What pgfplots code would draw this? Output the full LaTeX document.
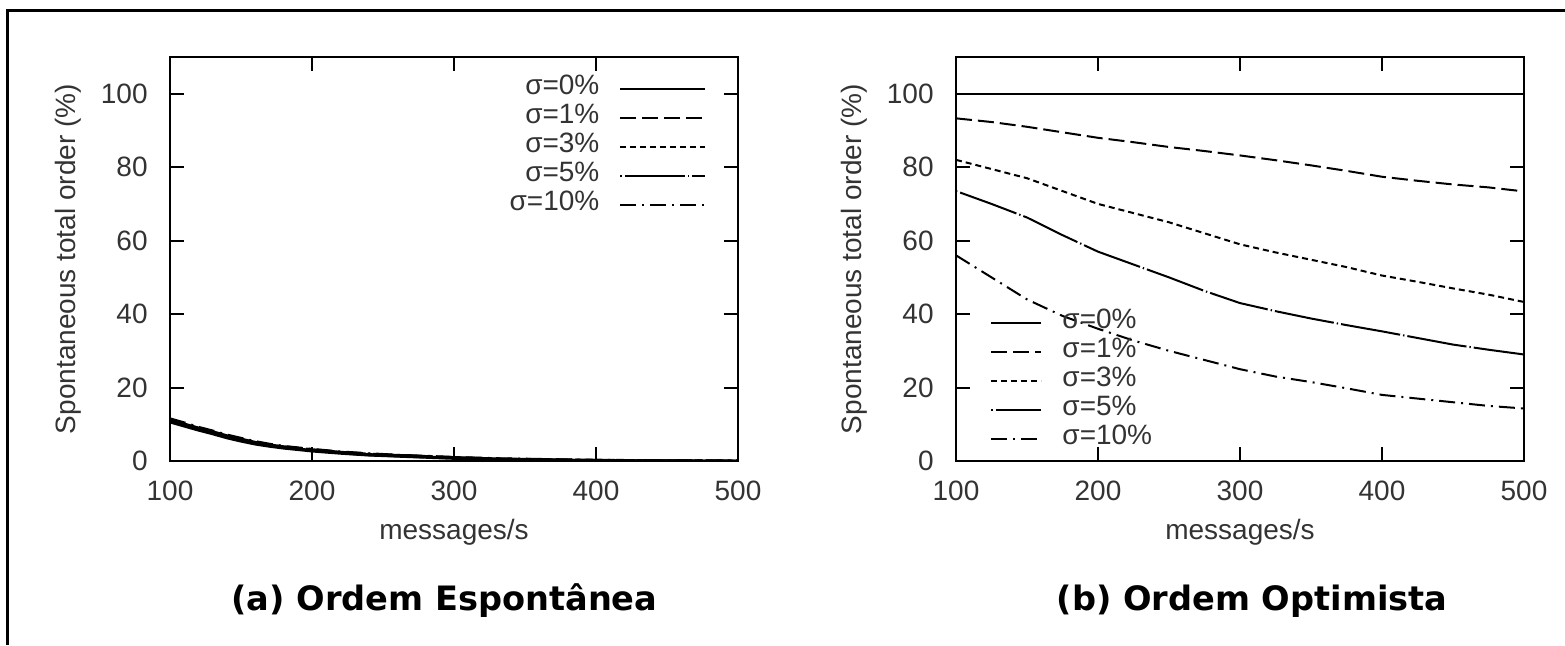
\documentclass[border=0pt]{standalone}
\usepackage{pgfplots}
\usepackage{pgfplotstable}
\pgfplotsset{compat=1.18}
\usepackage{fontspec}
\setmainfont{Liberation Sans}
\newfontfamily\capfont{DejaVu Sans}

% Left panel (a): all curves nearly coincide
\pgfplotstableread{
x y
100 10.6
110 9.5
120 8.4
130 7.4
140 6.3
150 5.4
160 4.6
170 4.0
180 3.5
200 2.7
220 2.1
240 1.6
260 1.3
280 1.0
300 0.7
330 0.45
360 0.25
400 0.12
450 0.04
500 0
}\aZero
\pgfplotstableread{
x y
100 10.8
110 9.7
120 8.6
130 7.6
140 6.5
150 5.6
160 4.8
170 4.2
180 3.7
200 2.9
220 2.2
240 1.7
260 1.4
280 1.1
300 0.8
330 0.5
360 0.3
400 0.15
450 0.05
500 0
}\aOne
\pgfplotstableread{
x y
100 11.0
110 9.9
120 8.8
130 7.8
140 6.7
150 5.8
160 5.0
170 4.3
180 3.8
200 3.0
220 2.3
240 1.8
260 1.5
280 1.2
300 0.9
330 0.55
360 0.35
400 0.18
450 0.06
500 0.01
}\aThree
\pgfplotstableread{
x y
100 11.2
110 10.1
120 9.0
130 8.0
140 6.9
150 6.0
160 5.1
170 4.4
180 3.9
200 3.1
220 2.4
240 1.9
260 1.55
280 1.25
300 0.95
330 0.6
360 0.4
400 0.2
450 0.07
500 0.02
}\aFive
\pgfplotstableread{
x y
100 11.5
110 10.4
120 9.2
130 8.2
140 7.1
150 6.2
160 5.3
170 4.6
180 4.0
200 3.2
220 2.5
240 2.0
260 1.6
280 1.3
300 1.0
330 0.65
360 0.45
400 0.22
450 0.08
500 0.03
}\aTen

% Right panel (b)
\pgfplotstableread{
x y
100 100
500 100
}\bZero
\pgfplotstableread{
x y
100 93.3
125 92.3
150 91.0
175 89.5
200 88.0
225 86.8
250 85.5
275 84.4
300 83.2
325 81.9
350 80.5
375 79.0
400 77.4
425 76.3
450 75.3
475 74.5
500 73.4
}\bOne
\pgfplotstableread{
x y
100 82.0
125 79.5
150 77.0
175 73.5
200 70.0
225 67.5
250 65.0
275 62.0
300 59.0
325 56.8
350 54.8
375 52.8
400 50.5
425 48.8
450 47.0
475 45.3
500 43.3
}\bThree
\pgfplotstableread{
x y
100 73.5
125 70.0
150 66.3
175 61.5
200 57.0
225 53.5
250 50.0
275 46.3
300 43.0
325 40.8
350 38.8
375 37.0
400 35.3
425 33.5
450 31.7
475 30.3
500 29.0
}\bFive
\pgfplotstableread{
x y
100 56.0
125 50.0
150 44.0
175 39.5
200 36.0
225 32.8
250 30.0
275 27.5
300 25.0
325 23.0
350 21.5
375 19.8
400 18.0
425 17.0
450 16.0
475 15.0
500 14.3
}\bTen

\pgfplotsset{
  panel/.style={
    scale only axis, width=284pt, height=202pt,
    xmin=100, xmax=500, ymin=0, ymax=110,
    xtick={100,200,...,500}, ytick={0,20,...,100},
    tick align=inside, major tick length=7pt,
    axis line style={line width=1pt},
    every tick/.style={line width=1pt, black},
    /pgf/number format/assume math mode=true,
    tick label style={font=\fontsize{14}{16}\selectfont, text=black!80},
    yticklabel style={inner sep=0pt, anchor=east, xshift=-11pt},
    xticklabel style={inner sep=0pt, anchor=north, yshift=-10pt},
    label style={font=\fontsize{14}{16}\selectfont, text=black!80},
    xlabel={messages/s},
    ylabel={Spontaneous total order (\%)},
    xlabel style={at={(axis description cs:0.5,-0.1757)}, anchor=center},
    ylabel style={at={(axis description cs:-0.1796,0.5)}, anchor=center},
    legend style={draw=none, fill=none, inner sep=0pt,
      font=\fontsize{14}{16}\selectfont, text=black!80,
      /tikz/column sep=10pt, /tikz/row sep=0pt,
      nodes={inner sep=0pt, text height=10pt, text depth=4.5pt}},
  },
  s0/.style={black, line width=1pt, solid},
  s1/.style={black, line width=1pt, dash pattern=on 8pt off 3pt},
  s3/.style={black, line width=1pt, dash pattern=on 3pt off 2pt},
  s5/.style={black, line width=1pt, dash pattern=on 0.7pt off 1.5pt on 30pt off 1.5pt},
  s10/.style={black, line width=1pt, dash pattern=on 8pt off 3pt on 1pt off 3pt},
}

\begin{document}
\begin{tikzpicture}
\useasboundingbox (0pt,0pt) rectangle (782.5pt,322.5pt);
\draw[line width=1.5pt] (3.5pt,0pt) -- (3.5pt,317.5pt) -- (782.5pt,317.5pt);

\begin{axis}[panel, at={(85pt,92pt)}, anchor=south west,
  legend style={at={(rel axis cs:0.945,0.958)}, anchor=north east},
  legend plot pos=right, legend cell align=right,
  legend image code/.code={\draw[#1, line width=1pt] (0pt,0pt) -- (42.5pt,0pt);}]
\addplot[s0, line width=1.4pt] table {\aZero};
\addplot[s1, line width=1.4pt] table {\aOne};
\addplot[s3, line width=1.4pt] table {\aThree};
\addplot[s5, line width=1.4pt] table {\aFive};
\addplot[s10, line width=1.4pt] table {\aTen};
\legend{σ=0\%, σ=1\%, σ=3\%, σ=5\%, σ=10\%}
\end{axis}

\begin{axis}[panel, at={(478pt,92pt)}, anchor=south west,
  legend style={at={(rel axis cs:0.060,0.379)}, anchor=north west},
  legend plot pos=left, legend cell align=left,
  legend image code/.code={\draw[#1] (0pt,0pt) -- (25pt,0pt);}]
\addplot[s0] table {\bZero};
\addplot[s1] table {\bOne};
\addplot[s3] table {\bThree};
\addplot[s5] table {\bFive};
\addplot[s10] table {\bTen};
\legend{σ=0\%, σ=1\%, σ=3\%, σ=5\%, σ=10\%}
\end{axis}

\node[anchor=base, font=\capfont\bfseries\fontsize{16.8}{19}\selectfont] at (222.25pt,17.5pt) {(a) Ordem Espontânea};
\node[anchor=base, font=\capfont\bfseries\fontsize{16.8}{19}\selectfont] at (626pt,17.5pt) {(b) Ordem Optimista};
\end{tikzpicture}
\end{document}
